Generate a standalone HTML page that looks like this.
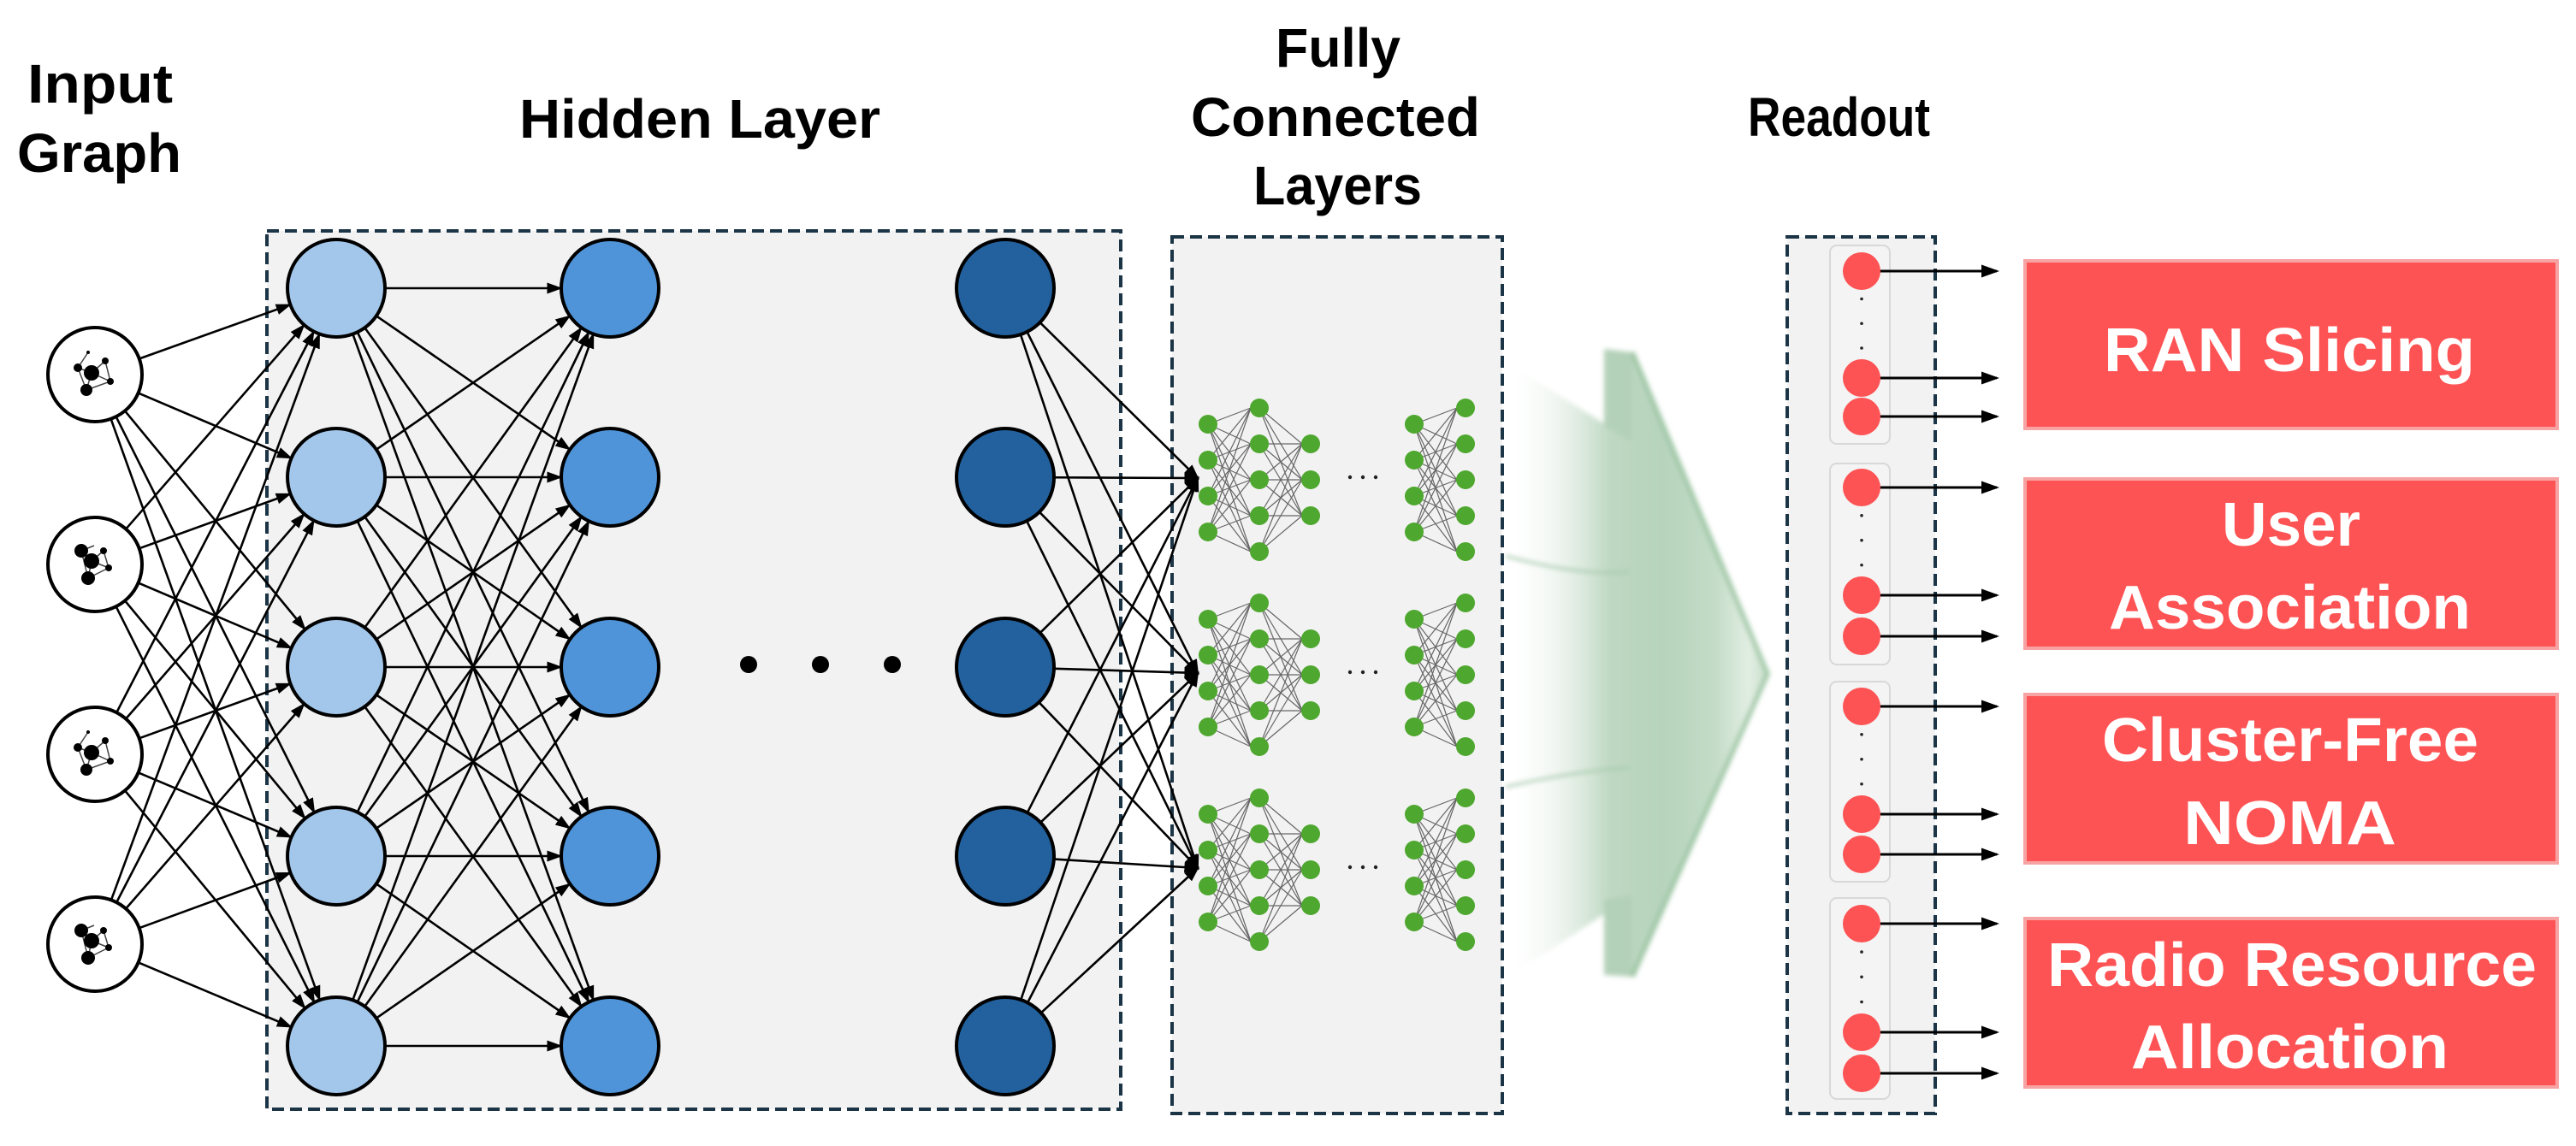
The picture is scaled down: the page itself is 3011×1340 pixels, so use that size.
<!DOCTYPE html>
<html><head><meta charset="utf-8"><style>
html,body{margin:0;padding:0;background:#fff;}
svg{display:block;}
.t{font-family:"Liberation Sans",sans-serif;font-weight:bold;}
</style></head><body>
<svg id="s" width="3011" height="1340" viewBox="0 0 3011 1340" xmlns="http://www.w3.org/2000/svg">
<defs>
<marker id="ah" markerWidth="7" markerHeight="7" refX="6" refY="3.5" orient="auto" markerUnits="strokeWidth"><path d="M0,1 L7,3.5 L0,6 z" fill="#000"/></marker>
<linearGradient id="gs" x1="1757" y1="0" x2="2066" y2="0" gradientUnits="userSpaceOnUse">
<stop offset="0" stop-color="#ffffff" stop-opacity="0"/>
<stop offset="0.4" stop-color="#bfd8c3"/>
<stop offset="0.6" stop-color="#b6d3bb"/>
<stop offset="0.8" stop-color="#c3dcc7"/>
<stop offset="0.93" stop-color="#e2eee3"/>
<stop offset="1" stop-color="#c8dfcb"/>
</linearGradient>
<filter id="bl" x="-20%" y="-20%" width="140%" height="140%"><feGaussianBlur stdDeviation="3"/></filter>
</defs>
<rect width="3011" height="1340" fill="#fff"/>

<text class="t" x="32" y="120" font-size="64" textLength="170" lengthAdjust="spacingAndGlyphs">Input</text>
<text class="t" x="20" y="201" font-size="64" textLength="192" lengthAdjust="spacingAndGlyphs">Graph</text>
<text class="t" x="607" y="161" font-size="64" textLength="422" lengthAdjust="spacingAndGlyphs">Hidden Layer</text>
<text class="t" x="1491" y="78" font-size="64" textLength="146" lengthAdjust="spacingAndGlyphs">Fully</text>
<text class="t" x="1392" y="159" font-size="64" textLength="338" lengthAdjust="spacingAndGlyphs">Connected</text>
<text class="t" x="1465" y="239" font-size="64" textLength="197" lengthAdjust="spacingAndGlyphs">Layers</text>
<text class="t" x="2043" y="159" font-size="64" textLength="213" lengthAdjust="spacingAndGlyphs">Readout</text>

<rect x="312" y="270" width="998" height="1027" fill="#f2f2f2" stroke="#1b3446" stroke-width="4" stroke-dasharray="14,7"/>
<rect x="1370" y="277" width="386" height="1025" fill="#f2f2f2" stroke="#1b3446" stroke-width="4" stroke-dasharray="14,7"/>
<rect x="2089" y="277" width="173" height="1025" fill="#f2f2f2" stroke="#1b3446" stroke-width="4" stroke-dasharray="14,7"/>

<g filter="url(#bl)">
<polygon points="1760,423 1908,516 1908,412 2066,788 1908,1142 1908,1047 1760,1145" fill="url(#gs)"/>
<polygon points="1875,408 1908,412 1908,516 1875,498" fill="#b3d0b8"/>
<polygon points="1875,1052 1908,1047 1908,1142 1875,1140" fill="#b3d0b8"/>
<polyline points="1908,412 2066,788 1908,1142" fill="none" stroke="#98c39f" stroke-width="5"/>
<path d="M1760,650 Q1850,675 1905,668" fill="none" stroke="#a8cbae" stroke-width="3"/>
<path d="M1760,920 Q1850,900 1905,898" fill="none" stroke="#a8cbae" stroke-width="3"/>
</g>

<g id="edges"></g>
<g id="nodes"></g>
<g id="ro"></g>

<g fill="#fe5354" stroke="#f8a3a3" stroke-width="4">
<rect x="2367" y="305" width="622" height="196"/>
<rect x="2367" y="560" width="622" height="198"/>
<rect x="2367" y="812" width="622" height="197"/>
<rect x="2367" y="1074" width="622" height="197"/>
</g>
<g class="t" fill="#fff" font-size="72">
<text x="2459" y="434" textLength="434" lengthAdjust="spacingAndGlyphs">RAN Slicing</text>
<text x="2597" y="638" textLength="162" lengthAdjust="spacingAndGlyphs">User</text>
<text x="2465" y="735" textLength="423" lengthAdjust="spacingAndGlyphs">Association</text>
<text x="2457" y="890" textLength="440" lengthAdjust="spacingAndGlyphs">Cluster-Free</text>
<text x="2552" y="987" textLength="249" lengthAdjust="spacingAndGlyphs">NOMA</text>
<text x="2393" y="1153" textLength="572" lengthAdjust="spacingAndGlyphs">Radio Resource</text>
<text x="2491" y="1249" textLength="371" lengthAdjust="spacingAndGlyphs">Allocation</text>
</g>
</svg>
<script>
var NS="http://www.w3.org/2000/svg";
function el(p,n,a){var e=document.createElementNS(NS,n);for(var k in a)e.setAttribute(k,a[k]);p.appendChild(e);return e;}
var E=document.getElementById('edges'),N=document.getElementById('nodes'),R=document.getElementById('ro');
var inY=[438,660,882,1104],hY=[337,558,780,1001,1223],X0=111,X1=393,X2=713,X3=1175,r=57;
function arrow(x1,y1,x2,y2,sw,col,m){el(E,'line',{x1:x1,y1:y1,x2:x2,y2:y2,stroke:col,'stroke-width':sw,'marker-end':'url(#'+m+')'});}
function trim(x1,y1,x2,y2,r1,r2){var dx=x2-x1,dy=y2-y1,d=Math.hypot(dx,dy);return [x1+dx/d*r1,y1+dy/d*r1,x2-dx/d*r2,y2-dy/d*r2];}
inY.forEach(function(a){hY.forEach(function(b){var t=trim(X0,a,X1,b,56,58);arrow(t[0],t[1],t[2],t[3],2.6,'#000','ah');});});
hY.forEach(function(a){hY.forEach(function(b){var t=trim(X1,a,X2,b,57,58);arrow(t[0],t[1],t[2],t[3],2.6,'#000','ah');});});
var fcY=[559,787,1015];
hY.forEach(function(a){fcY.forEach(function(b){var t=trim(X3,a,1400,b,57,0);arrow(t[0],t[1],t[2],t[3],2.6,'#000','ah');});});
var gx=[1412,1472,1532,1653,1713];
var c1=[496,538,580,622],c2=[477,519,561,603,645],c3=[519,561,603];
[0,228,456].forEach(function(o){
 var cols=[c1,c2,c3,c1,c2];
 [[0,1],[1,2],[3,4]].forEach(function(p){cols[p[0]].forEach(function(a){cols[p[1]].forEach(function(b){
  el(E,'line',{x1:gx[p[0]],y1:a+o,x2:gx[p[1]]-10,y2:b+o,stroke:'#666','stroke-width':1.2});});});});
 cols.forEach(function(c,i){c.forEach(function(y){el(N,'circle',{cx:gx[i],cy:y+o,r:11,fill:'#4ea72e'});});});
 [1578,1593,1608].forEach(function(x){el(N,'circle',{cx:x,cy:558+o,r:2.2,fill:'#222'});});
});
inY.forEach(function(y,i){
 el(N,'circle',{cx:X0,cy:y,r:55,fill:'#fff',stroke:'#000','stroke-width':4});
 var g=el(N,'g',{transform:'translate('+X0+','+y+')'});
 var pts=[[-20,-8,5],[-4,-2,9],[12,-16,4],[-10,18,7],[18,8,4],[-8,-26,2]];
 if(i%2==1)pts=[[-16,-16,8],[-4,-4,9],[10,-16,4],[-8,16,8],[16,4,4],[-1,-22,0]];
 [[0,1],[1,2],[1,4],[3,4],[1,3],[0,3],[0,5],[2,4]].forEach(function(e){var a=pts[e[0]],b=pts[e[1]];el(g,'line',{x1:a[0],y1:a[1],x2:b[0],y2:b[1],stroke:'#444','stroke-width':1.5});});
 pts.forEach(function(p){if(p[2])el(g,'circle',{cx:p[0],cy:p[1],r:p[2],fill:'#000'});});
});
hY.forEach(function(y){
 el(N,'circle',{cx:X1,cy:y,r:r,fill:'#a3c7eb',stroke:'#000','stroke-width':4});
 el(N,'circle',{cx:X2,cy:y,r:r,fill:'#4f94d9',stroke:'#000','stroke-width':4});
 el(N,'circle',{cx:X3,cy:y,r:r,fill:'#22619d',stroke:'#000','stroke-width':4});
});
[875,959,1043].forEach(function(x){el(N,'circle',{cx:x,cy:777,r:10,fill:'#000'});});
var groups=[[287,519,[317,442,487]],[542,777,[570,696,744]],[797,1031,[826,952,999]],[1050,1285,[1080,1207,1255]]];
groups.forEach(function(g){
 el(R,'rect',{x:2139,y:g[0],width:70,height:g[1]-g[0],rx:8,fill:'#f4f4f4',stroke:'#d8d8d8','stroke-width':2});
 var ys=g[2];
 ys.forEach(function(y){el(R,'line',{x1:2190,y1:y,x2:2334,y2:y,stroke:'#000','stroke-width':3,'marker-end':'url(#ah)'});});
 ys.forEach(function(y){el(R,'circle',{cx:2176,cy:y,r:22,fill:'#fe5354'});});
 var d=(ys[1]-ys[0]);[0.3,0.53,0.76].forEach(function(f){el(R,'circle',{cx:2176,cy:ys[0]+d*f-5,r:1.8,fill:'#222'});});
});
</script>
</body></html>
